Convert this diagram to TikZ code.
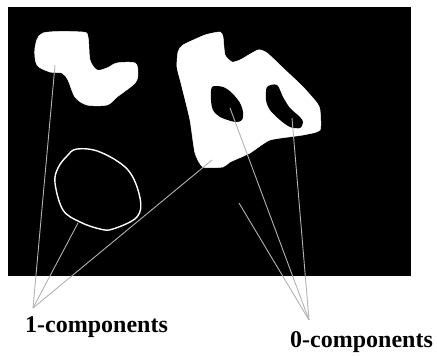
\documentclass[tikz,border=0pt]{standalone}
\usepackage{fontspec}
\setmainfont{Liberation Serif}
\begin{document}
\begin{tikzpicture}[x=1pt,y=-1pt,
  conn/.style={draw=black!30, line width=0.9pt},
  blob/.style={fill=white, draw=white, line width=0.5pt},
  hole/.style={fill=black},
  lbl/.style={font=\bfseries\fontsize{24}{28}\selectfont, inner sep=0pt, anchor=base west}]
\useasboundingbox (0,0) rectangle (437,356);
\fill[black] (8,7) rectangle (411,276);
% blob 1 (upper left)
\filldraw[blob] plot[smooth cycle, tension=0.5] coordinates {
  (35,48) (43,33) (82,32) (88,37) (90,60) (97,70) (107,68) (117,63)
  (135,63) (138,73) (135,83) (117,97) (107,105) (87,105) (75,97)
  (68,80) (62,73) (50,72) (37,65)};
% ring
\draw[white, line width=1.4pt] plot[smooth cycle, tension=0.6] coordinates {
  (77,149) (100,152) (128,170) (140,198) (137,217) (113,229) (100,229)
  (80,222) (63,210) (55,183) (58,168) (67,156)};
% big blob
\filldraw[blob] plot[smooth cycle, tension=0.35] coordinates {
  (178,52) (183,45) (205,35) (220,32) (223,37) (225,55) (232,62) (240,60)
  (258,50) (267,53) (283,68) (303,87) (317,103) (320,110) (320,130)
  (303,135) (270,140) (250,153) (230,162) (223,167) (203,167) (195,153)
  (190,120) (182,87) (177,67)};
% holes
\fill[hole] plot[smooth cycle, tension=0.5] coordinates {
  (212,87) (223,87) (232,93) (240,103) (243,112) (242,120) (235,122)
  (220,117) (213,110) (211,100)};
\fill[hole] plot[smooth cycle, tension=0.5] coordinates {
  (267,87) (277,85) (283,97) (290,108) (300,117) (303,122) (300,128)
  (290,127) (280,120) (270,110) (266,100)};
% anchor coordinates
\coordinate (s1) at (55,65);
\coordinate (s2) at (78,223);
\coordinate (s3) at (212,160);
\coordinate (t1) at (230,108);
\coordinate (t2) at (292,118);
\coordinate (t3) at (239,203);
\coordinate (c1) at (33,308);
\coordinate (c0) at (309,320);
\node[lbl] (one) at (25,332) {1-components};
\node[lbl] (zero) at (290,347) {0-components};
\draw[conn] (s1) -- (c1);
\draw[conn] (s2) -- (c1);
\draw[conn] (s3) -- (c1);
\draw[conn] (t1) -- (c0);
\draw[conn] (t2) -- (c0);
\draw[conn] (t3) -- (c0);
\end{tikzpicture}
\end{document}
